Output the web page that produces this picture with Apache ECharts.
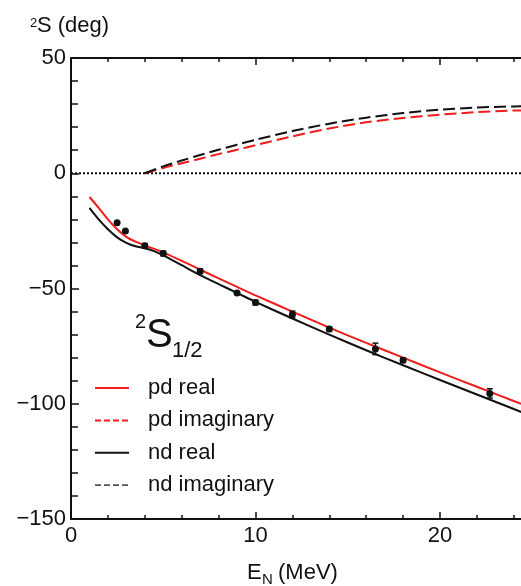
<!DOCTYPE html>
<html>
<head>
<meta charset="utf-8">
<script src="https://cdn.jsdelivr.net/npm/echarts@6/dist/echarts.min.js"></script>
<style>html,body{margin:0;padding:0;background:#fff}#c{width:521px;height:586px}</style>
</head>
<body>
<div id="c"></div>
<script>
// ---- data ----
const pdRealE = [1, 1.5, 2, 2.5, 3, 3.5, 4, 5, 6, 7, 8, 9, 10, 12, 14, 16, 18, 20, 22, 24, 25];
const pdRealS = [-10.3, -15, -20, -24.3, -27.6, -29.7, -31.3, -34.3, -38, -41.8, -45.6, -49.3, -53, -60, -67, -73.6, -80, -86.4, -92.6, -98.8, -101.8];

const ndRealE = [1, 1.5, 2, 2.5, 3, 3.5, 4, 4.5, 5, 6, 7, 8, 9, 10, 12, 14, 16, 18, 20, 22, 24, 25];
const ndRealS = [-15, -20, -24.3, -27.8, -30.2, -31.7, -32.5, -33.8, -35.6, -39.9, -44.2, -48.1, -51.9, -55.8, -63, -70, -76.8, -83.3, -89.7, -96, -102.3, -105.4];

const pdImagE = [4, 5, 6, 7, 8, 9, 10, 12, 14, 16, 18, 20, 22, 24, 25];
const pdImagS = [0, 2.3, 4.3, 6.3, 8.3, 10.2, 12.2, 16, 19.4, 22.1, 24.0, 25.4, 26.5, 27.2, 27.3];

const ndImagE = [4, 5, 6, 7, 8, 9, 10, 12, 14, 16, 18, 20, 22, 24, 25];
const ndImagS = [0, 3, 5.5, 7.9, 10.2, 12.4, 14.5, 18.3, 21.5, 24.1, 26.1, 27.6, 28.5, 29.0, 29.1];

const expE = [2.5, 2.95, 4, 5, 7, 9, 10, 12, 14, 16.5, 18, 22.7];
const expS = [-21.5, -25, -31.5, -34.8, -42.5, -51.9, -56.1, -61.3, -67.6, -76.2, -81.1, -95.5];
const expErr = [0, 0, 1, 1, 1, 0, 1, 1.5, 1, 2.5, 1, 2];

const zeroE = [0, 25];
const zeroS = [0, 0];

const xTicks = [0, 10, 20];
const yTicks = [-150, -100, -50, 0, 50];

// ---- chart ----
const FONT = '"Liberation Sans", Arial, Helvetica, sans-serif';
const RED = '#ee1c1c';
const BLACK = '#111';
const pairs = (xs, ys) => xs.map((x, i) => [x, ys[i]]);
const fmtNum = v => (v < 0 ? '\u2212' + Math.abs(v) : String(v));

const chart = echarts.init(document.getElementById('c'), null, {renderer: 'canvas'});

const axisCommon = {
  type: 'value',
  axisLine: {show: true, onZero: false, lineStyle: {color: BLACK, width: 2}},
  splitLine: {show: false},
  minorSplitLine: {show: false}
};

chart.setOption({
  animation: false,
  backgroundColor: '#fff',
  grid: {left: 71, top: 58, width: 461.25, height: 461, containLabel: false, outerBoundsMode: 'none'},
  xAxis: [
    Object.assign({}, axisCommon, {
      min: 0, max: 25, interval: 10,
      position: 'bottom',
      axisTick: {show: true, inside: true, length: 7, lineStyle: {color: BLACK, width: 1.5}},
      minorTick: {show: true, splitNumber: 5, length: 4, lineStyle: {color: BLACK, width: 1.5}},
      axisLabel: {
        show: true, margin: 6, color: BLACK, fontSize: 22, fontFamily: FONT,
        formatter: v => (xTicks.indexOf(v) >= 0 ? fmtNum(v) : '')
      }
    }),
    Object.assign({}, axisCommon, {
      min: 0, max: 25, interval: 10,
      position: 'top',
      axisTick: {show: true, inside: true, length: 7, lineStyle: {color: BLACK, width: 1.5}},
      minorTick: {show: true, splitNumber: 5, length: 4, lineStyle: {color: BLACK, width: 1.5}},
      axisLabel: {show: false}
    })
  ],
  yAxis: [
    Object.assign({}, axisCommon, {
      min: -150, max: 50, interval: 50,
      position: 'left',
      axisTick: {show: true, inside: true, length: 8, lineStyle: {color: BLACK, width: 1.5}},
      minorTick: {show: true, splitNumber: 5, length: 7, lineStyle: {color: BLACK, width: 1.5}},
      axisLabel: {
        show: true, margin: 5, color: BLACK, fontSize: 22, fontFamily: FONT,
        formatter: v => (yTicks.indexOf(v) >= 0 ? fmtNum(v) : '')
      }
    })
  ],
  legend: {
    orient: 'vertical',
    left: 94, top: 376,
    itemWidth: 34, itemHeight: 14, itemGap: 8.4,
    padding: 0,
    selectedMode: false,
    itemStyle: {opacity: 0},
    textStyle: {fontSize: 22, fontFamily: FONT, color: BLACK, lineHeight: 24, padding: [0, 0, 0, 14]},
    data: [
      {name: 'pd real', lineStyle: {width: 2}},
      {name: 'pd imaginary', lineStyle: {width: 2, type: [6, 3]}},
      {name: 'nd real', lineStyle: {width: 2}},
      {name: 'nd imaginary', lineStyle: {width: 1.2, type: [6, 3]}}
    ]
  },
  series: [
    {
      name: 'zero', type: 'line', symbol: 'none', silent: true,
      data: pairs(zeroE, zeroS),
      lineStyle: {color: BLACK, width: 2, type: [2, 2]}, z: 1
    },
    {
      name: 'pd imaginary', type: 'line', symbol: 'none', smooth: 0.3,
      data: pairs(pdImagE, pdImagS),
      itemStyle: {color: RED},
      lineStyle: {color: RED, width: 2, type: [12, 5]}, z: 2
    },
    {
      name: 'nd imaginary', type: 'line', symbol: 'none', smooth: 0.3,
      data: pairs(ndImagE, ndImagS),
      itemStyle: {color: BLACK},
      lineStyle: {color: BLACK, width: 2, type: [12, 5]}, z: 2
    },
    {
      name: 'nd real', type: 'line', symbol: 'none', smooth: 0.25,
      data: pairs(ndRealE, ndRealS),
      itemStyle: {color: BLACK},
      lineStyle: {color: BLACK, width: 2}, z: 3
    },
    {
      name: 'pd real', type: 'line', symbol: 'none', smooth: 0.25,
      data: pairs(pdRealE, pdRealS),
      itemStyle: {color: RED},
      lineStyle: {color: RED, width: 2}, z: 3
    },
    {
      name: 'errors', type: 'custom', silent: true, z: 4,
      data: expE.map((e, i) => [e, expS[i] - expErr[i], expS[i] + expErr[i]]),
      renderItem: function (params, api) {
        const lo = api.coord([api.value(0), api.value(1)]);
        const hi = api.coord([api.value(0), api.value(2)]);
        if (Math.abs(hi[1] - lo[1]) < 0.5) return null;
        const w = 3;
        const st = {stroke: BLACK, lineWidth: 1.5};
        return {
          type: 'group',
          children: [
            {type: 'line', shape: {x1: lo[0], y1: lo[1], x2: hi[0], y2: hi[1]}, style: st},
            {type: 'line', shape: {x1: lo[0] - w, y1: lo[1], x2: lo[0] + w, y2: lo[1]}, style: st},
            {type: 'line', shape: {x1: hi[0] - w, y1: hi[1], x2: hi[0] + w, y2: hi[1]}, style: st}
          ]
        };
      }
    },
    {
      name: 'data', type: 'scatter', symbol: 'circle', symbolSize: 7, z: 5,
      data: pairs(expE, expS),
      itemStyle: {color: BLACK, opacity: 1}
    }
  ],
  graphic: [
    // y-axis title: ^2S (deg)
    {type: 'text', z: 10, style: {text: '2', x: 30, y: 23.8, align: 'left', verticalAlign: 'middle', fontSize: 13, fontFamily: FONT, fill: BLACK}},
    {type: 'text', z: 10, style: {text: 'S (deg)', x: 37, y: 25.6, align: 'left', verticalAlign: 'middle', fontSize: 22, fontFamily: FONT, fill: BLACK}},
    // x-axis title: E_N (MeV)
    {type: 'text', z: 10, style: {text: 'E', x: 247, y: 573, align: 'left', verticalAlign: 'middle', fontSize: 22, fontFamily: FONT, fill: BLACK}},
    {type: 'text', z: 10, style: {text: 'N', x: 262, y: 579.5, align: 'left', verticalAlign: 'middle', fontSize: 15, fontFamily: FONT, fill: BLACK}},
    {type: 'text', z: 10, style: {text: '(MeV)', x: 278, y: 573, align: 'left', verticalAlign: 'middle', fontSize: 22, fontFamily: FONT, fill: BLACK}},
    // ^2S_{1/2}
    {type: 'text', z: 10, style: {text: '2', x: 135, y: 322, align: 'left', verticalAlign: 'middle', fontSize: 20, fontFamily: FONT, fill: BLACK}},
    {type: 'text', z: 10, style: {text: 'S', x: 146, y: 336, align: 'left', verticalAlign: 'middle', fontSize: 40, fontFamily: FONT, fill: BLACK}},
    {type: 'text', z: 10, style: {text: '1/2', x: 172, y: 351.3, align: 'left', verticalAlign: 'middle', fontSize: 22, fontFamily: FONT, fill: BLACK}}
  ]
});
</script>
</body>
</html>
